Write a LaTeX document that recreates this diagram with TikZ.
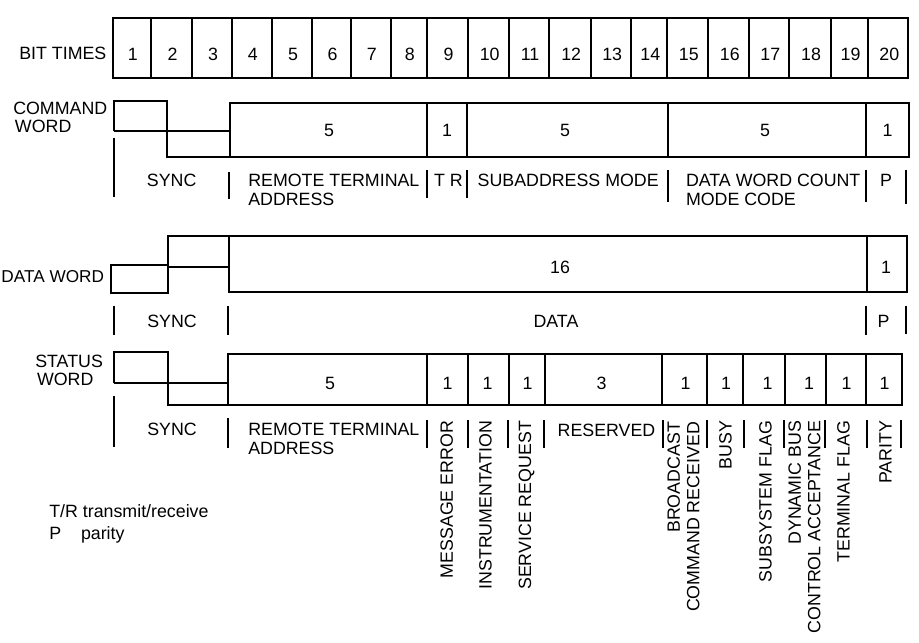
\documentclass[tikz,border=0pt]{standalone}
\usepackage{fontspec}
\setmainfont{Liberation Sans}
\begin{document}
\begin{tikzpicture}[x=1pt,y=-1pt,line width=2pt,
  lbl/.style={font=\fontsize{17.8}{19}\selectfont,inner sep=0pt,anchor=base},
  lblw/.style={lbl,anchor=base west},
  lble/.style={lbl,anchor=base east},
  rot/.style={font=\fontsize{17.8}{19.5}\selectfont,inner sep=0pt,rotate=90,anchor=east,align=right}]
\useasboundingbox (0,0) rectangle (919,643);
% ---------- BIT TIMES ----------
\node[lblw] (bitlbl) at (18.3,59.5) {BIT TIMES};
\draw (112.7,18) rectangle (908.3,78.3);
\foreach \a/\b [count=\i] in {112.7/151,151/192.3,192.3/231.7,231.7/271.7,271.7/312.3,312.3/350.7,350.7/391,391/426.7,426.7/468.3,468.3/509,509/549.3,549.3/591,591/631.3,631.3/667.3,667.3/708.3,708.3/749.3,749.3/789.3,789.3/830.7,830.7/868.3,868.3/908.3}{
  \draw (\b,18) -- (\b,78.3);
  \node[lbl] (bit\i) at ({(\a+\b)/2+1},60) {\i};
}
% ---------- COMMAND WORD ----------
\node[lblw] (cmdlbl1) at (12.3,114) {COMMAND};
\node[lblw] (cmdlbl2) at (14,132) {WORD};
\draw (114.3,131) -- (114.3,100.7) -- (167.3,100.7) -- (167.3,156.7) -- (230,156.7);
\draw (114.3,131) -- (230,131);
\draw (230,102.7) rectangle (909,156.7);
\foreach \x in {427.3,467.3,667.7,866}{\draw (\x,102.7) -- (\x,156.7);}
\node[lbl] (c1) at (329,136.7) {5};
\node[lbl] (c2) at (447,136.7) {1};
\node[lbl] (c3) at (565,136.7) {5};
\node[lbl] (c4) at (765,136.7) {5};
\node[lbl] (c5) at (887.5,136.7) {1};
\draw (114,138.3) -- (114,196.7);
\draw (228.5,171.7) -- (228.5,199);
\draw (427,170) -- (427,198);
\draw (467.3,170) -- (467.3,198);
\draw (667.7,170) -- (667.7,202);
\draw (866,170) -- (866,202);
\draw (906,170) -- (906,204);
\node[lbl] (csync) at (171.7,186.7) {SYNC};
\node[lblw] (crt1) at (247.3,186.7) {REMOTE TERMINAL};
\node[lblw] (crt2) at (247.3,205) {ADDRESS};
\node[lblw] (ctr) at (433,186.7) {T R};
\node[lblw] (csub) at (476.7,186.7) {SUBADDRESS MODE};
\node[lblw] (cdw1) at (685,186.7) {DATA WORD COUNT};
\node[lblw] (cdw2) at (685,205) {MODE CODE};
\node[lbl] (cp) at (886,186.7) {P};
% ---------- DATA WORD ----------
\node[lblw,font=\fontsize{17.2}{19}\selectfont] (datlbl) at (0.5,282) {DATA WORD};
\draw (111,265) rectangle (168.3,293.3);
\draw (168.3,265) -- (168.3,236) -- (228.7,236);
\draw (168.3,266.7) -- (228.7,266.7);
\draw (228.7,236) rectangle (906.7,291.7);
\draw (866.7,236) -- (866.7,291.7);
\node[lbl] (d1) at (560,273) {16};
\node[lbl] (d2) at (886,273) {1};
\draw (114,306) -- (114,335);
\draw (228.3,306) -- (228.3,335);
\draw (866,306) -- (866,335);
\draw (906,306) -- (906,334);
\node[lbl] (dsync) at (172,327) {SYNC};
\node[lbl] (ddata) at (556,327) {DATA};
\node[lbl] (dp) at (883.5,327) {P};
% ---------- STATUS WORD ----------
\node[lblw] (stlbl1) at (34.3,367) {STATUS};
\node[lblw] (stlbl2) at (36,385.7) {WORD};
\draw (114,383.3) -- (114,351.7) -- (168.3,351.7) -- (168.3,405.3) -- (228,405.3);
\draw (114,383.3) -- (228,383.3);
\draw (228,354.3) rectangle (902,405.3);
\foreach \x in {427.3,468.3,509,545,662,707.3,743.3,785,825.7,866}{\draw (\x,354.3) -- (\x,405.3);}
\node[lbl] (s1) at (330,389.3) {5};
\foreach \x/\t [count=\i from 2] in {447.5/1,487.5/1,527.5/1,601.5/3,685.5/1,726/1,767.5/1,809/1,846.5/1,884.5/1}{
  \node[lbl] (s\i) at (\x,389.3) {\t};
}
\draw (114,396) -- (114,447.3);
\draw (228.3,418.3) -- (228.3,448.3);
\foreach \x in {426.7,467.7,508.3,544.3,662.7,707.3,744,784,825,866.7,901}{\draw (\x,420) -- (\x,448.3);}
\node[lbl] (ssync) at (172,435) {SYNC};
\node[lblw] (srt1) at (247.3,435) {REMOTE TERMINAL};
\node[lblw] (srt2) at (247.3,454) {ADDRESS};
\node[lblw] (sres) at (556.7,436) {RESERVED};
\node[rot] (sme) at (446.7,420) {MESSAGE ERROR};
\node[rot] (sin) at (485.5,420) {INSTRUMENTATION};
\node[rot] (ssr) at (526.7,420) {SERVICE REQUEST};
\node[rot] (sbc) at (683.5,421) {BROADCAST\\COMMAND RECEIVED};
\node[rot] (sbusy) at (725.5,420) {BUSY};
\node[rot] (ssf) at (765.5,420) {SUBSYSTEM FLAG};
\node[rot] (sdb) at (804.5,420) {DYNAMIC BUS\\CONTROL ACCEPTANCE};
\node[rot] (stf) at (843.5,420) {TERMINAL FLAG};
\node[rot] (spar) at (885.5,420) {PARITY};
% ---------- LEGEND ----------
\node[lblw] (leg1) at (48.3,517.3) {T/R transmit/receive};
\node[lblw] (leg2a) at (48.3,539.3) {P};
\node[lblw] (leg2b) at (80,539.3) {parity};
\end{tikzpicture}
\end{document}
